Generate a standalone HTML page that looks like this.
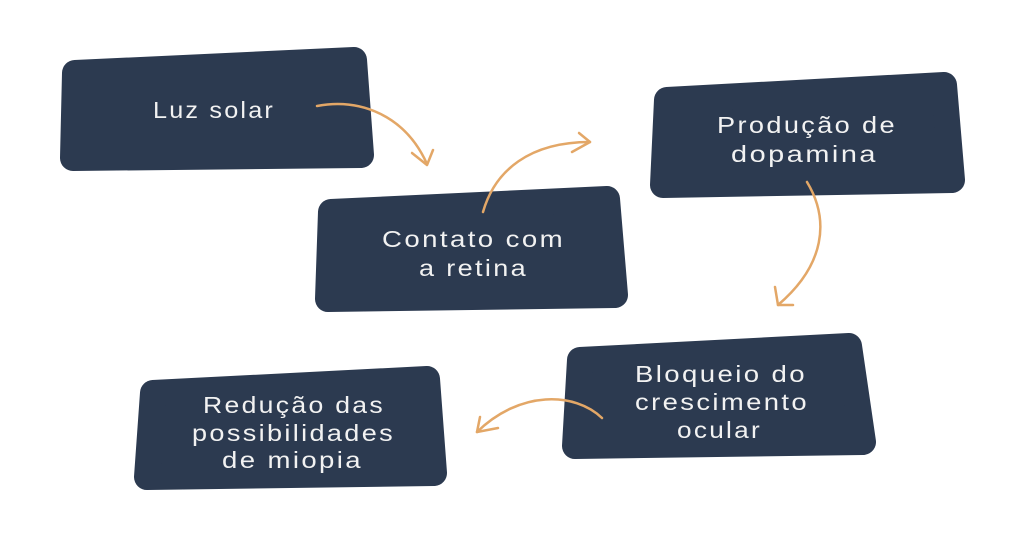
<!DOCTYPE html>
<html>
<head>
<meta charset="utf-8">
<style>
  html,body{margin:0;padding:0;background:#ffffff;}
  body{width:1024px;height:536px;overflow:hidden;}
  svg{display:block;}
  .box{fill:#2c3a50;stroke:#2c3a50;stroke-width:26;stroke-linejoin:round;}
  .t{font-family:"Liberation Sans",sans-serif;font-size:23px;letter-spacing:2px;fill:#f2f2f2;}
  .arr{fill:none;stroke:#e3a767;stroke-width:2.5;stroke-linecap:round;stroke-linejoin:round;}
</style>
</head>
<body>
<svg width="1024" height="536" viewBox="0 0 1024 536" xmlns="http://www.w3.org/2000/svg">
  <!-- Boxes -->
  <polygon class="box" points="75,73 354,60 361,155 73,158"/>
  <polygon class="box" points="331,212 607,199 615,295 328,299"/>
  <polygon class="box" points="667,100 944,85 952,180 663,185"/>
  <polygon class="box" points="580,360 849,346 863,442 575,446"/>
  <polygon class="box" points="153,393 427,379 434,473 147,477"/>

  <!-- Text -->
  <text class="t" x="153" y="118" textLength="122" lengthAdjust="spacingAndGlyphs">Luz solar</text>

  <text class="t" x="382" y="247" textLength="183" lengthAdjust="spacingAndGlyphs">Contato com</text>
  <text class="t" x="419" y="276" textLength="109" lengthAdjust="spacingAndGlyphs">a retina</text>

  <text class="t" x="717" y="133" textLength="180" lengthAdjust="spacingAndGlyphs">Produção de</text>
  <text class="t" x="731" y="162" textLength="147" lengthAdjust="spacingAndGlyphs">dopamina</text>

  <text class="t" x="635" y="382" textLength="172" lengthAdjust="spacingAndGlyphs">Bloqueio do</text>
  <text class="t" x="635" y="410" textLength="174" lengthAdjust="spacingAndGlyphs">crescimento</text>
  <text class="t" x="677" y="438" textLength="85" lengthAdjust="spacingAndGlyphs">ocular</text>

  <text class="t" x="203" y="413" textLength="182" lengthAdjust="spacingAndGlyphs">Redução das</text>
  <text class="t" x="192" y="441" textLength="203" lengthAdjust="spacingAndGlyphs">possibilidades</text>
  <text class="t" x="222" y="468" textLength="141" lengthAdjust="spacingAndGlyphs">de miopia</text>

  <!-- Arrows -->
  <path class="arr" d="M317,106 C360,98 405,115 427,164"/>
  <path class="arr" d="M412,153 L427,165 L433,150"/>

  <path class="arr" d="M483,212 C495,170 530,142 590,142"/>
  <path class="arr" d="M579,133 L590,142 L572,152"/>

  <path class="arr" d="M807,182 C830,220 825,265 778,305"/>
  <path class="arr" d="M775,287 L778,305 L793,305"/>

  <path class="arr" d="M602,418 C575,392 520,390 477,432"/>
  <path class="arr" d="M480,417 L477,432 L498,428"/>
</svg>
</body>
</html>
